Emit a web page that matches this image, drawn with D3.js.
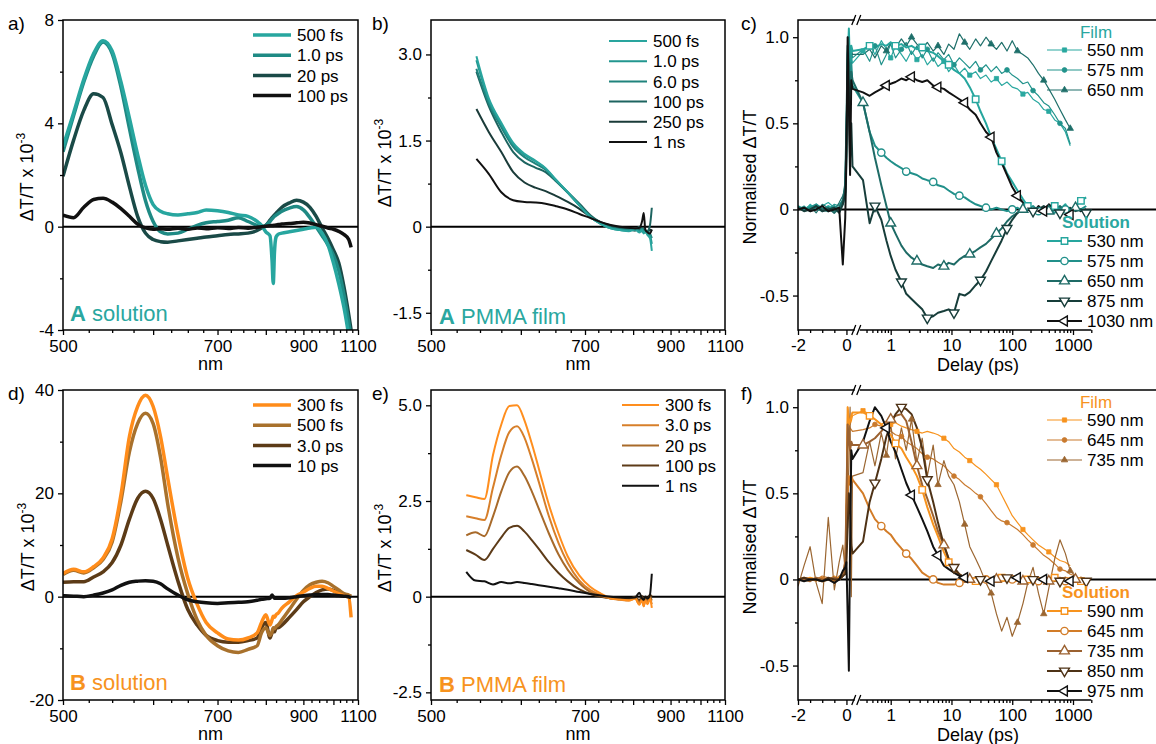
<!DOCTYPE html>
<html>
<head>
<meta charset="utf-8">
<script src="https://cdn.jsdelivr.net/npm/d3@7"></script>
<style>
  body { margin: 0; background: #fff; }
  svg { font-family: "Liberation Sans", Arial, sans-serif; font-size: 17px; }
</style>
</head>
<body>
<svg id="fig" width="1156" height="744"></svg>
<script>
// Transient transmission spectra (a,b,d,e) and normalised kinetics (c,f)
// for compounds A (teal) and B (orange), in solution and in PMMA film.

// ---- wavelength grids (nm) ----
const solWavelength = [500,510,520,530,540,550,560,570,580,590,600,610,620,
  635,650,665,680,700,720,740,760,780,790,800,810,815,818,821,825,830,
  840,860,880,900,920,940,960,980,1000,1020,1040,1060,1070];
const bFilmWavelength = [546,560,575,590,605,620,635,650,670,690,710,730,750,770,790,805,815,822,826,830,836,842,847];
const eFilmWavelength = [535,545,555,565,575,585,595,605,615,625,640,655,670,690,710,730,750,770,790,805,815,822,826,830,836,842,847];

// ---- a) A solution, dT/T x 10^-3 ----
const a500fs = [3.1,4.4,5.7,6.7,7.2,6.8,5.6,4.2,2.8,1.6,0.85,0.6,0.5,
  0.45,0.5,0.55,0.65,0.62,0.55,0.45,0.4,0.2,0.05,-0.2,-0.35,-1.3,-2.2,-1.0,-0.4,-0.3,
  -0.25,-0.2,-0.15,-0.1,-0.05,-0.02,-0.25,-0.7,-1.4,-2.2,-3.1,-4.2,-4.8];
const a1ps = [2.9,4.3,5.6,6.6,7.15,6.7,5.4,3.8,2.3,1.0,0.2,-0.2,-0.28,
  -0.25,-0.1,0.05,0.15,0.2,0.25,0.35,0.2,0.05,0.0,0.05,0.2,0.3,0.35,0.4,0.45,0.5,
  0.6,0.72,0.78,0.65,0.35,0.0,-0.35,-0.7,-1.1,-1.7,-2.6,-3.7,-4.3];
const a20ps = [1.95,3.35,4.5,5.15,5.0,3.95,2.85,1.55,0.4,-0.25,-0.5,-0.58,-0.6,
  -0.55,-0.5,-0.45,-0.4,-0.35,-0.3,-0.28,-0.25,-0.15,-0.05,0.05,0.25,0.35,0.4,0.45,0.52,0.6,
  0.75,0.92,1.02,0.95,0.75,0.4,-0.05,-0.45,-0.9,-1.4,-2.3,-3.4,-4.0];
const a100ps = [0.45,0.35,0.75,1.05,1.1,0.95,0.7,0.4,0.1,-0.05,-0.1,-0.08,-0.1,
  -0.06,-0.1,-0.05,-0.08,-0.04,-0.07,-0.03,-0.06,-0.02,0.0,0.02,0.04,0.05,0.05,0.06,0.07,0.08,
  0.1,0.12,0.15,0.17,0.14,0.08,0.02,-0.05,-0.1,-0.18,-0.3,-0.5,-0.8];

// ---- b) A PMMA film ----
const b500fs = [2.97,2.24,1.81,1.46,1.27,1.15,1.02,0.83,0.6,0.37,0.17,0.05,-0.03,-0.06,-0.08,-0.05,-0.1,-0.06,-0.12,-0.08,-0.15,-0.2,-0.42];
const b1ps = [2.9,2.2,1.78,1.43,1.25,1.14,1.01,0.82,0.6,0.37,0.17,0.05,-0.03,-0.06,-0.07,-0.04,-0.08,-0.05,-0.1,-0.09,-0.12,-0.15,-0.3];
const b6ps = [2.75,2.15,1.73,1.39,1.21,1.1,0.99,0.81,0.59,0.37,0.17,0.05,-0.02,-0.05,-0.06,-0.05,-0.07,-0.03,-0.09,-0.07,-0.1,-0.12,-0.2];
const b100ps = [2.7,2.1,1.65,1.3,1.12,1.03,0.95,0.8,0.6,0.4,0.2,0.07,-0.01,-0.04,-0.05,-0.07,0.0,-0.09,-0.04,-0.1,-0.08,0.02,0.33];
const b250ps = [2.05,1.65,1.3,0.95,0.77,0.68,0.62,0.54,0.43,0.31,0.17,0.08,0.02,-0.02,-0.04,-0.03,-0.05,-0.02,-0.08,-0.06,-0.1,-0.05,-0.08];
const b1ns = [1.18,0.92,0.6,0.46,0.43,0.42,0.4,0.36,0.3,0.22,0.15,0.08,0.03,0.0,-0.02,-0.03,-0.02,0.1,0.24,-0.05,-0.1,-0.12,-0.05];

// ---- d) B solution ----
const d300fs = [4.5,5.3,4.8,5.8,7.5,11.2,19.7,31,36.8,39,36.8,31,23,
  12,3.5,-1.5,-5.0,-7.0,-8.2,-8.4,-8.0,-7.0,-5.0,-3.5,-5.5,-4.5,-3.8,-4.0,-3.5,-3.2,
  -2.2,-1.0,0.2,0.9,1.6,2.0,2.0,1.6,1.1,0.6,0.2,-0.1,-4.0];
const d500fs = [4.3,5.1,4.6,5.6,7.2,10.6,18.5,28,33.5,35.5,33.5,27,18,
  7.5,0.5,-4.5,-7.5,-9.5,-10.5,-10.8,-10.2,-9.5,-7.0,-6.0,-7.5,-6.8,-6.0,-6.2,-5.8,-5.5,
  -4.5,-2.5,-0.5,1.2,2.3,2.8,3.0,2.7,2.0,1.3,0.6,0.3,0.1];
const d3ps = [2.8,2.9,2.9,3.8,4.8,6.6,10,15,19,20.4,19,15,10,
  3,-2.5,-5.5,-7.5,-8.5,-8.8,-8.8,-8.5,-8.0,-6.0,-5.0,-8.0,-7.0,-6.5,-6.8,-6.0,-6.0,
  -5.5,-4.0,-2.5,-1.0,0.0,0.8,1.3,1.5,1.2,0.8,0.5,0.2,0.0];
const d10ps = [0.2,0.1,0.0,0.3,0.7,1.3,2.2,2.8,3.0,3.1,3.0,2.5,1.5,
  0.3,-0.6,-1.0,-1.2,-1.3,-1.2,-1.1,-1.0,-0.7,-0.5,-0.4,-0.3,0.3,0.0,-0.3,-0.3,-0.3,
  -0.3,-0.2,0.0,0.2,0.3,0.4,0.4,0.4,0.3,0.2,0.1,0.0,-0.2];

// ---- e) B PMMA film ----
const e300fs = [2.65,2.6,2.55,3.7,4.5,4.98,5.0,4.6,4.0,3.35,2.4,1.65,1.05,0.55,0.25,0.08,-0.04,-0.07,-0.1,-0.05,-0.21,-0.08,-0.25,-0.1,-0.2,-0.05,-0.29];
const e3ps = [2.1,2.05,2.0,2.85,3.7,4.3,4.45,4.15,3.6,3.0,2.1,1.4,0.88,0.42,0.17,0.04,-0.05,-0.08,-0.1,-0.05,-0.2,-0.1,-0.25,-0.1,-0.15,-0.05,-0.2];
const e20ps = [1.6,1.68,1.58,2.1,2.75,3.25,3.4,3.15,2.75,2.3,1.65,1.1,0.7,0.35,0.12,0.02,-0.05,-0.07,-0.08,-0.03,-0.15,-0.05,-0.2,-0.05,-0.1,0.0,-0.1];
const e100ps = [1.22,1.1,0.96,1.25,1.55,1.8,1.85,1.7,1.48,1.25,0.9,0.62,0.4,0.19,0.07,0.0,-0.04,-0.05,-0.06,0.0,-0.1,0.02,-0.12,0.0,-0.05,0.05,0.0];
const e1ns = [0.65,0.42,0.4,0.32,0.38,0.35,0.38,0.36,0.33,0.3,0.26,0.22,0.18,0.12,0.07,0.03,0.0,-0.02,-0.03,-0.02,0.1,-0.05,-0.08,0.0,-0.05,0.05,0.6];

// ---- kinetics: shared delay grid (ps), linear below 0.3 ps, log above ----
const delayPs = [-2,-1.75,-1.5,-1.25,-1,-0.75,-0.5,-0.3,-0.15,-0.05,0,0.05,0.1,0.15,0.2,0.25,
  0.35,0.45,0.55,0.7,0.85,
  1,1.2,1.5,1.8,2.2,2.7,3.3,4,5,6,7.5,9,
  11,13.5,16.5,20,25,30,37,45,55,67,82,
  100,122,150,180,220,270,330,400,500,610,750,900,
  1100,1350,1650];

// c) compound A
const cFilm550 = [0.02,-0.01,0.03,0.0,0.02,0.04,0.01,0.03,0.05,0.1,0.3,0.95,1.02,0.6,0.9,0.85,
  0.92,0.96,0.9,0.98,0.93,
  0.88,0.95,0.9,0.86,0.92,0.87,0.9,0.84,0.88,0.83,0.86,0.8,
  0.84,0.79,0.82,0.78,0.8,0.76,0.78,0.74,0.76,0.72,0.74,
  0.71,0.7,0.67,0.68,0.64,0.62,0.58,0.57,0.52,0.5,0.45,0.37,
  null,null,null];
const cFilm575 = [0.0,0.02,-0.01,0.03,0.01,0.0,0.03,0.02,0.06,0.15,0.4,0.9,0.98,0.7,0.95,0.88,
  0.93,0.86,0.95,0.84,0.9,
  0.96,0.88,0.93,0.97,0.9,0.95,0.88,0.93,0.86,0.91,0.87,0.9,
  0.84,0.88,0.85,0.82,0.86,0.81,0.84,0.8,0.83,0.79,0.81,
  0.78,0.76,0.73,0.74,0.69,0.66,0.62,0.6,0.55,0.5,0.47,0.38,
  null,null,null];
const cFilm650 = [0.01,0.0,0.02,-0.02,0.03,0.01,-0.01,0.04,0.08,0.12,0.5,1.0,0.9,0.8,0.92,0.9,
  0.9,0.93,0.88,0.95,0.92,
  0.97,0.94,0.99,0.95,1.0,0.96,0.93,0.97,0.92,0.95,0.9,0.96,
  0.93,1.02,0.97,0.93,0.99,0.95,1.0,0.96,0.93,0.97,0.92,
  0.98,0.92,0.9,0.88,0.84,0.79,0.75,0.7,0.64,0.58,0.52,0.47,
  null,null,null];
const cSol530 = [0.01,0.0,0.02,0.01,-0.01,0.02,0.0,0.01,0.03,0.08,0.3,0.85,1.05,0.8,0.95,0.92,
  0.93,0.95,0.94,0.96,0.95,
  0.97,0.95,0.96,0.94,0.95,0.93,0.94,0.92,0.91,0.89,0.86,0.84,
  0.81,0.79,0.76,0.71,0.64,0.57,0.5,0.42,0.35,0.28,0.21,
  0.16,0.11,0.06,0.02,0.0,-0.01,0.01,-0.02,0.02,0.0,0.03,-0.02,
  0.02,0.05,0.07];
const cSol575 = [0.02,0.0,0.01,0.03,0.0,-0.01,0.02,0.0,0.04,0.12,0.4,0.9,1.0,0.75,0.85,0.72,
  0.62,0.45,0.37,0.33,0.3,
  0.28,0.26,0.24,0.22,0.21,0.2,0.18,0.17,0.16,0.14,0.13,0.11,
  0.09,0.08,0.07,0.05,0.03,0.02,0.01,0.0,0.01,0.0,-0.01,
  0.0,0.01,-0.01,0.0,0.02,-0.01,0.0,0.01,-0.02,0.01,0.0,-0.01,
  0.01,0.0,0.02];
const cSol650 = [0.0,0.01,-0.01,0.02,0.0,0.01,-0.02,0.01,0.05,0.15,0.5,0.95,0.85,0.7,0.8,0.75,
  0.62,0.45,0.3,0.14,0.02,
  -0.08,-0.14,-0.21,-0.25,-0.28,-0.3,-0.32,-0.33,-0.34,-0.32,-0.33,-0.31,
  -0.32,-0.29,-0.27,-0.26,-0.24,-0.22,-0.2,-0.17,-0.14,-0.11,-0.07,
  -0.04,-0.02,0.0,0.01,-0.01,0.0,0.01,-0.01,0.0,0.02,-0.01,0.0,
  0.01,-0.01,0.0];
const cSol875 = [0.01,-0.01,0.0,0.02,-0.01,0.0,0.01,-0.02,0.03,0.1,0.4,0.8,0.7,0.3,0.5,0.25,
  0.17,-0.08,0.02,-0.06,-0.18,
  -0.27,-0.35,-0.42,-0.49,-0.52,-0.55,-0.58,-0.63,-0.62,-0.6,-0.59,-0.58,
  -0.6,-0.49,-0.5,-0.48,-0.44,-0.41,-0.36,-0.3,-0.24,-0.18,-0.11,
  -0.06,-0.02,0.0,0.02,-0.01,0.0,0.02,-0.01,0.01,-0.02,0.0,0.01,
  -0.01,0.0,-0.02];
const cSol1030 = [0.0,0.01,-0.01,0.0,0.02,-0.01,0.0,0.01,-0.32,-0.05,0.3,1.0,0.6,0.2,0.75,0.7,
  0.68,0.66,0.68,0.7,0.72,
  0.73,0.74,0.76,0.75,0.77,0.75,0.74,0.75,0.72,0.71,0.7,0.68,
  0.66,0.64,0.62,0.58,0.55,0.5,0.45,0.42,0.33,0.27,0.2,
  0.13,0.08,0.04,0.0,-0.02,0.02,-0.01,0.03,0.0,-0.02,0.01,-0.03,
  0.02,-0.01,0.0];

// f) compound B
const fFilm590 = [0.0,0.01,0.0,-0.01,0.01,0.0,0.02,0.0,0.02,0.1,0.5,1.0,0.95,0.9,0.92,0.95,
  0.98,0.96,0.93,0.9,0.92,
  0.9,0.91,0.89,0.88,0.87,0.86,0.85,0.86,0.85,0.84,0.82,0.8,
  0.76,0.74,0.71,0.69,0.66,0.64,0.61,0.58,0.55,0.49,0.43,
  0.37,0.33,0.29,0.26,0.23,0.2,0.18,0.16,0.13,0.11,0.1,0.08,
  null,null,null];
const fFilm645 = [0.0,-0.01,0.01,0.0,0.02,0.01,-0.01,0.02,0.03,0.12,0.45,0.9,0.85,0.88,0.87,0.86,
  0.87,0.88,0.9,0.89,0.88,
  0.86,0.84,0.83,0.8,0.78,0.76,0.73,0.71,0.7,0.68,0.66,0.63,
  0.6,0.58,0.55,0.53,0.5,0.48,0.44,0.4,0.36,0.34,0.33,
  0.31,0.29,0.26,0.23,0.2,0.17,0.14,0.12,0.09,0.06,0.05,0.03,
  0.02,null,null];
const fFilm735 = [-0.04,0.08,0.19,-0.02,-0.14,0.36,-0.06,0.1,0.2,0.05,0.44,0.3,0.7,1.0,-0.1,0.6,
  0.62,0.8,0.66,0.85,0.72,
  0.9,0.7,0.88,0.75,0.93,0.68,0.82,0.6,0.78,0.55,0.69,0.6,
  0.55,0.45,0.32,0.19,0.12,0.06,-0.02,-0.08,-0.2,-0.3,-0.22,
  -0.33,-0.25,-0.14,-0.02,0.07,-0.08,-0.2,-0.05,0.12,0.23,0.15,0.05,
  0.02,-0.01,null];
const fSol590 = [0.0,0.0,0.01,0.0,-0.01,0.0,0.0,0.01,0.02,0.06,0.3,1.0,0.9,0.92,0.95,0.97,
  0.97,0.95,0.93,0.9,0.87,
  0.84,0.79,0.76,0.71,0.66,0.6,0.52,0.42,0.32,0.25,0.16,0.1,
  0.05,0.03,0.01,0.0,-0.01,0.01,0.0,-0.01,0.0,0.01,-0.01,
  0.0,0.01,-0.01,0.0,0.01,0.0,-0.01,0.0,0.01,-0.01,0.0,0.01,
  0.0,-0.01,0.0];
const fSol645 = [0.0,0.01,0.0,0.0,0.01,0.0,-0.01,0.0,0.02,0.05,0.2,0.5,0.6,0.55,0.6,0.58,
  0.5,0.41,0.35,0.31,0.28,
  0.26,0.22,0.18,0.15,0.12,0.08,0.04,0.02,0.0,-0.02,-0.03,-0.03,
  -0.03,-0.02,-0.01,0.0,0.0,0.01,0.0,-0.01,0.0,0.01,0.0,
  0.0,-0.01,0.0,0.01,0.0,-0.01,0.0,0.0,0.01,0.0,-0.01,0.0,
  0.0,0.01,0.0];
const fSol735 = [0.0,0.0,-0.01,0.01,0.0,0.0,0.01,0.0,0.02,0.1,0.45,0.9,0.8,0.75,0.8,0.78,
  0.78,0.8,0.82,0.86,0.9,
  0.93,0.95,0.96,0.92,0.8,0.66,0.55,0.47,0.37,0.28,0.2,0.12,
  0.06,0.03,0.01,0.0,0.01,-0.01,0.0,0.01,0.0,-0.01,0.0,
  0.01,0.0,-0.01,0.0,0.01,0.0,0.0,-0.01,0.0,0.01,0.0,-0.01,
  0.0,0.01,0.0];
const fSol850 = [0.0,0.01,0.0,0.0,-0.01,0.01,0.0,0.0,0.02,0.03,0.1,0.3,0.5,0.4,0.2,0.15,
  0.22,0.45,0.56,0.7,0.83,
  0.9,0.96,1.0,0.99,0.96,0.88,0.76,0.58,0.45,0.33,0.2,0.12,
  0.07,0.03,0.01,0.0,-0.01,0.0,0.01,0.0,-0.01,0.0,0.01,
  0.0,0.0,-0.01,0.01,0.0,-0.01,0.0,0.01,0.0,-0.01,0.0,0.0,
  0.01,0.0,-0.01];
const fSol975 = [0.0,-0.01,0.0,0.0,-0.01,0.0,-0.02,0.0,0.05,0.07,0.1,-0.2,-0.53,0.2,0.75,0.7,
  0.8,0.92,1.0,0.95,0.88,
  0.8,0.74,0.64,0.56,0.49,0.42,0.35,0.28,0.19,0.14,0.08,0.06,
  0.04,0.02,0.01,0.0,-0.01,0.01,0.0,-0.01,0.0,0.01,-0.01,
  0.0,0.01,-0.01,0.0,0.01,-0.01,0.0,0.01,-0.01,0.0,0.01,-0.01,
  0.0,-0.01,0.0];

// ---- axis tick values ----
const nmMajor = [500,600,700,800,900,1000,1100];
const nmLabels = [500,700,900,1100];
const nmMinor = d3.range(525, 1100, 25).filter(n => n % 100 !== 0);
const delayLabelsLin = [-2, 0];
const delayMinorLin = [-1.5, -1, -0.5];
const delayLabelsLog = [1, 10, 100, 1000];
const delayMinorLog = [0.1, 1, 10, 100, 1000]
  .flatMap(dec => d3.range(2, 10).map(m => m * dec))
  .filter(t => t >= 0.4 && t <= 2000);

const TEAL = '#2aa7a0';
const ORANGE = '#f7931e';

// ---- layout ----
const PANEL_H = 310;
const panels = {
  a: {left: 63, top: 20, width: 295},
  b: {left: 431, top: 20, width: 294},
  c: {left: 798, top: 20, width: 358},
  d: {left: 63, top: 390, width: 295},
  e: {left: 431, top: 390, width: 294},
  f: {left: 798, top: 390, width: 358}
};

const fig = d3.select('#fig');
const defs = fig.append('defs');

function styleAxis(sel) {
  sel.attr('font-size', null).attr('font-family', null);
  sel.select('.domain').remove();
  sel.selectAll('.tick line').attr('stroke', '#000').attr('stroke-width', 1.3);
  sel.selectAll('.tick text').attr('fill', '#000');
}

function clipFor(key, w) {
  defs.append('clipPath').attr('id', 'clip-' + key)
    .append('rect').attr('width', w).attr('height', PANEL_H);
  return `url(#clip-${key})`;
}

function yAxis(g, y, major, minor, fmt) {
  g.append('g').call(d3.axisLeft(y).tickValues(minor).tickSize(3).tickFormat(() => '')).call(styleAxis);
  g.append('g').call(d3.axisLeft(y).tickValues(major).tickSize(5).tickPadding(4).tickFormat(fmt)).call(styleAxis);
}

function yTitle(g, x, y, main, sup) {
  const t = g.append('text')
    .attr('transform', `translate(${x},${y}) rotate(-90)`)
    .attr('text-anchor', 'middle').attr('font-size', 18);
  t.append('tspan').text(main);
  if (sup) t.append('tspan').attr('dy', -8).attr('font-size', 12).text(sup);
}

function panelLetter(x, y, txt) {
  fig.append('text').attr('x', x).attr('y', y).attr('font-size', 19).text(txt);
}

const zeroFmt = f => d => (d === 0 ? '0' : f(d));

function drawSpectra(key, cfg) {
  const p = panels[key];
  const g = fig.append('g').attr('transform', `translate(${p.left},${p.top})`);
  const x = d3.scaleLinear().domain([1 / 500, 1 / 1100]).range([0, p.width]); // energy axis
  const y = d3.scaleLinear().domain(cfg.yDomain).range([PANEL_H, 0]);

  const bottom = g.append('g').attr('transform', `translate(0,${PANEL_H})`);
  bottom.append('g')
    .call(d3.axisBottom(x).tickValues(nmMinor.map(n => 1 / n)).tickSize(3).tickFormat(() => ''))
    .call(styleAxis);
  bottom.append('g')
    .call(d3.axisBottom(x).tickValues(nmMajor.map(n => 1 / n)).tickSize(5).tickPadding(5)
      .tickFormat(d => { const n = Math.round(1 / d); return nmLabels.includes(n) ? n : ''; }))
    .call(styleAxis);
  yAxis(g, y, cfg.yTicks, cfg.yMinor, cfg.yFormat);

  g.append('line').attr('x1', 0).attr('x2', p.width).attr('y1', y(0)).attr('y2', y(0))
    .attr('stroke', '#000').attr('stroke-width', 2);

  const line = d3.line()
    .defined(v => v != null)
    .x((v, i) => x(1 / cfg.wavelength[i]))
    .y(v => y(v))
    .curve(d3.curveMonotoneX);
  const order = cfg.series.slice(0, -1).reverse().concat(cfg.series.slice(-1));
  g.append('g').attr('clip-path', clipFor(key, p.width))
    .selectAll('path').data(order).join('path')
    .attr('d', s => line(s.values))
    .attr('fill', 'none')
    .attr('stroke', s => s.color)
    .attr('stroke-width', cfg.lineWidth)
    .attr('stroke-linejoin', 'round');

  g.append('rect').attr('width', p.width).attr('height', PANEL_H)
    .attr('fill', 'none').attr('stroke', '#000').attr('stroke-width', 1.5);

  // legend
  const lg = g.append('g').attr('transform', `translate(${cfg.legend.x},${cfg.legend.y})`);
  cfg.series.forEach((s, i) => {
    const row = lg.append('g').attr('transform', `translate(0,${i * 20.2})`);
    row.append('line').attr('x1', 0).attr('x2', cfg.legend.len).attr('stroke', s.color)
      .attr('stroke-width', cfg.lineWidth);
    row.append('text').attr('x', cfg.legend.len + 6).attr('dy', '0.36em').text(s.label);
  });

  // sample tag
  const tag = g.append('text').attr('x', cfg.tag.x).attr('y', cfg.tag.y)
    .attr('font-size', 22).attr('fill', cfg.tag.color);
  tag.append('tspan').attr('font-weight', 'bold').text(cfg.tag.bold);
  tag.append('tspan').text(' ' + cfg.tag.rest);

  g.append('text').attr('x', p.width / 2).attr('y', PANEL_H + 40)
    .attr('text-anchor', 'middle').attr('font-size', 18).text('nm');
  yTitle(g, cfg.yTitle.x, cfg.yTitle.y, 'ΔT/T x 10', '-3');
}

const symbolTypes = {
  square: [d3.symbolSquare, 0],
  circle: [d3.symbolCircle, 0],
  up: [d3.symbolTriangle, 0],
  down: [d3.symbolTriangle, 180],
  left: [d3.symbolTriangle, -90]
};

function drawMarker(sel, shape, filled, color) {
  const [type, rot] = symbolTypes[shape];
  sel.append('path')
    .attr('d', d3.symbol().type(type).size(filled ? 18 : 42)())
    .attr('transform', (sel.attr('data-pos') || '') + ` rotate(${rot})`)
    .attr('fill', filled ? color : '#fff')
    .attr('stroke', color)
    .attr('stroke-width', filled ? 0.8 : 1.4);
}

function drawKinetics(key, cfg) {
  const p = panels[key];
  const g = fig.append('g').attr('transform', `translate(${p.left},${p.top})`);
  const xLin = d3.scaleLinear().domain([-2, 0.25]).range([0, 54.5]);
  const xLog = d3.scaleLog().domain([0.35, 1000]).range([65, 275]);
  const xt = t => (t <= 0.25 ? xLin(t) : xLog(t));
  const y = d3.scaleLinear().domain([-0.7, 1.1]).range([PANEL_H, 0]);
  const axisEnd = xLog(2000);

  const bottom = g.append('g').attr('transform', `translate(0,${PANEL_H})`);
  bottom.append('g').call(d3.axisBottom(xLin).tickValues(delayMinorLin).tickSize(3).tickFormat(() => '')).call(styleAxis);
  bottom.append('g').call(d3.axisBottom(xLin).tickValues(delayLabelsLin).tickSize(5).tickPadding(4).tickFormat(d => String(d))).call(styleAxis);
  bottom.append('g').call(d3.axisBottom(xLog).tickValues(delayMinorLog).tickSize(3).tickFormat(() => '')).call(styleAxis);
  bottom.append('g').call(d3.axisBottom(xLog).tickValues(delayLabelsLog).tickSize(5).tickPadding(4).tickFormat(d => String(d))).call(styleAxis);
  yAxis(g, y, [-0.5, 0, 0.5, 1], [-0.25, 0.25, 0.75], zeroFmt(d => d.toFixed(1)));

  g.append('line').attr('x1', 0).attr('x2', p.width).attr('y1', y(0)).attr('y2', y(0))
    .attr('stroke', '#000').attr('stroke-width', 2);

  const line = d3.line().defined(v => v != null).x((v, i) => xt(delayPs[i])).y(v => y(v));
  const plot = g.append('g').attr('clip-path', clipFor(key, p.width));
  cfg.series.forEach(s => {
    plot.append('path').attr('d', line(s.values))
      .attr('fill', 'none').attr('stroke', s.color)
      .attr('stroke-width', s.film ? 1.2 : 2).attr('stroke-linejoin', 'round');
  });
  cfg.series.forEach(s => {
    const pts = s.values.map((v, i) => ({t: delayPs[i], v, i}))
      .filter(d => d.v != null && d.i >= 16 && (d.i - 16) % 5 === s.markEvery);
    pts.forEach(d => {
      const m = plot.append('g').attr('data-pos', `translate(${xt(d.t)},${y(d.v)})`);
      drawMarker(m, s.shape, s.film, s.color);
    });
  });

  // frame: left, top to the edge, bottom along the delay axis
  g.append('path').attr('d', `M${p.width},0H0V${PANEL_H}H${axisEnd}`)
    .attr('fill', 'none').attr('stroke', '#000').attr('stroke-width', 1.5);
  // axis break marks
  const bx = (xLin(0.25) + xLog(0.35)) / 2;
  [0, PANEL_H].forEach(yy => {
    g.append('rect').attr('x', bx - 3).attr('y', yy - 2).attr('width', 5).attr('height', 4).attr('fill', '#fff');
    g.append('path').attr('d', `M${bx - 6},${yy + 5}L${bx - 2},${yy - 5}M${bx - 1},${yy + 5}L${bx + 3},${yy - 5}`)
      .attr('stroke', '#000').attr('stroke-width', 1.3);
  });

  // legend
  const groups = [
    {title: 'Film', bold: false, y: 12, rows: cfg.series.filter(s => s.film), y0: 30},
    {title: 'Solution', bold: true, y: 202, rows: cfg.series.filter(s => !s.film), y0: 221}
  ];
  groups.forEach(grp => {
    g.append('text').attr('x', 298).attr('y', grp.y).attr('dy', '0.36em')
      .attr('text-anchor', 'middle').attr('fill', cfg.accent)
      .attr('font-weight', grp.bold ? 'bold' : null).text(grp.title);
    grp.rows.forEach((s, i) => {
      const row = g.append('g').attr('transform', `translate(249,${grp.y0 + i * 20})`);
      row.append('line').attr('x1', 0).attr('x2', 35).attr('stroke', s.color)
        .attr('stroke-width', s.film ? 1.2 : 2);
      const m = row.append('g').attr('data-pos', 'translate(17.5,0)');
      drawMarker(m, s.shape, s.film, s.color);
      row.append('text').attr('x', 40).attr('dy', '0.36em').text(s.label);
    });
  });

  g.append('text').attr('x', 180).attr('y', PANEL_H + 41)
    .attr('text-anchor', 'middle').attr('font-size', 18).text('Delay (ps)');
  yTitle(g, -42, 157, 'Normalised ΔT/T');
}

// ---- panels ----
drawSpectra('a', {
  wavelength: solWavelength, yDomain: [-4, 8], yTicks: [-4, 0, 4, 8], yMinor: [-2, 2, 6],
  yFormat: d => String(d), lineWidth: 3.5,
  series: [
    {label: '500 fs', values: a500fs, color: '#27a69f'},
    {label: '1.0 ps', values: a1ps, color: '#1f8a84'},
    {label: '20 ps', values: a20ps, color: '#1a4a47'},
    {label: '100 ps', values: a100ps, color: '#111'}
  ],
  legend: {x: 190, y: 15, len: 38},
  tag: {x: 7, y: 301, bold: 'A', rest: 'solution', color: TEAL},
  yTitle: {x: -30, y: 157}
});

drawSpectra('b', {
  wavelength: bFilmWavelength, yDomain: [-1.8, 3.6], yTicks: [-1.5, 0, 1.5, 3.0], yMinor: [-0.75, 0.75, 2.25],
  yFormat: zeroFmt(d => d.toFixed(1)), lineWidth: 2,
  series: [
    {label: '500 fs', values: b500fs, color: '#29a59e'},
    {label: '1.0 ps', values: b1ps, color: '#22968f'},
    {label: '6.0 ps', values: b6ps, color: '#20837d'},
    {label: '100 ps', values: b100ps, color: '#1d6460'},
    {label: '250 ps', values: b250ps, color: '#1a3b39'},
    {label: '1 ns', values: b1ns, color: '#111'}
  ],
  legend: {x: 178, y: 21, len: 38},
  tag: {x: 8, y: 304, bold: 'A', rest: 'PMMA film', color: TEAL},
  yTitle: {x: -40, y: 143}
});

drawSpectra('d', {
  wavelength: solWavelength, yDomain: [-20, 40], yTicks: [-20, 0, 20, 40], yMinor: [-10, 10, 30],
  yFormat: d => String(d), lineWidth: 3.5,
  series: [
    {label: '300 fs', values: d300fs, color: '#ff8c1a'},
    {label: '500 fs', values: d500fs, color: '#a8712c'},
    {label: '3.0 ps', values: d3ps, color: '#5c3b17'},
    {label: '10 ps', values: d10ps, color: '#111'}
  ],
  legend: {x: 190, y: 15, len: 38},
  tag: {x: 7, y: 300, bold: 'B', rest: 'solution', color: ORANGE},
  yTitle: {x: -29, y: 157}
});

drawSpectra('e', {
  wavelength: eFilmWavelength, yDomain: [-2.7, 5.4], yTicks: [-2.5, 0, 2.5, 5.0], yMinor: [-1.25, 1.25, 3.75],
  yFormat: zeroFmt(d => d.toFixed(1)), lineWidth: 2,
  series: [
    {label: '300 fs', values: e300fs, color: '#ff8e1e'},
    {label: '3.0 ps', values: e3ps, color: '#d77f2a'},
    {label: '20 ps', values: e20ps, color: '#a86a2a'},
    {label: '100 ps', values: e100ps, color: '#5d3b18'},
    {label: '1 ns', values: e1ns, color: '#111'}
  ],
  legend: {x: 191, y: 15, len: 37},
  tag: {x: 8, y: 302, bold: 'B', rest: 'PMMA film', color: ORANGE},
  yTitle: {x: -40, y: 158}
});

drawKinetics('c', {
  accent: TEAL,
  series: [
    {label: '550 nm', values: cFilm550, color: '#2aa8a0', film: true, shape: 'square', markEvery: 0},
    {label: '575 nm', values: cFilm575, color: '#22938c', film: true, shape: 'circle', markEvery: 2},
    {label: '650 nm', values: cFilm650, color: '#1e6f6a', film: true, shape: 'up', markEvery: 4},
    {label: '530 nm', values: cSol530, color: '#26a69e', film: false, shape: 'square', markEvery: 1},
    {label: '575 nm', values: cSol575, color: '#21908a', film: false, shape: 'circle', markEvery: 3},
    {label: '650 nm', values: cSol650, color: '#1e6b66', film: false, shape: 'up', markEvery: 0},
    {label: '875 nm', values: cSol875, color: '#173d3a', film: false, shape: 'down', markEvery: 2},
    {label: '1030 nm', values: cSol1030, color: '#111', film: false, shape: 'left', markEvery: 4}
  ]
});

drawKinetics('f', {
  accent: ORANGE,
  series: [
    {label: '590 nm', values: fFilm590, color: '#f7931e', film: true, shape: 'square', markEvery: 0},
    {label: '645 nm', values: fFilm645, color: '#c97a2e', film: true, shape: 'circle', markEvery: 2},
    {label: '735 nm', values: fFilm735, color: '#9b6631', film: true, shape: 'up', markEvery: 4},
    {label: '590 nm', values: fSol590, color: '#f7931e', film: false, shape: 'square', markEvery: 1},
    {label: '645 nm', values: fSol645, color: '#d27c28', film: false, shape: 'circle', markEvery: 3},
    {label: '735 nm', values: fSol735, color: '#9b6130', film: false, shape: 'up', markEvery: 0},
    {label: '850 nm', values: fSol850, color: '#4e3216', film: false, shape: 'down', markEvery: 2},
    {label: '975 nm', values: fSol975, color: '#111', film: false, shape: 'left', markEvery: 4}
  ]
});

panelLetter(8, 30, 'a)');
panelLetter(372, 30, 'b)');
panelLetter(741, 30, 'c)');
panelLetter(8, 400, 'd)');
panelLetter(372, 400, 'e)');
panelLetter(741, 400, 'f)');
</script>
</body>
</html>
